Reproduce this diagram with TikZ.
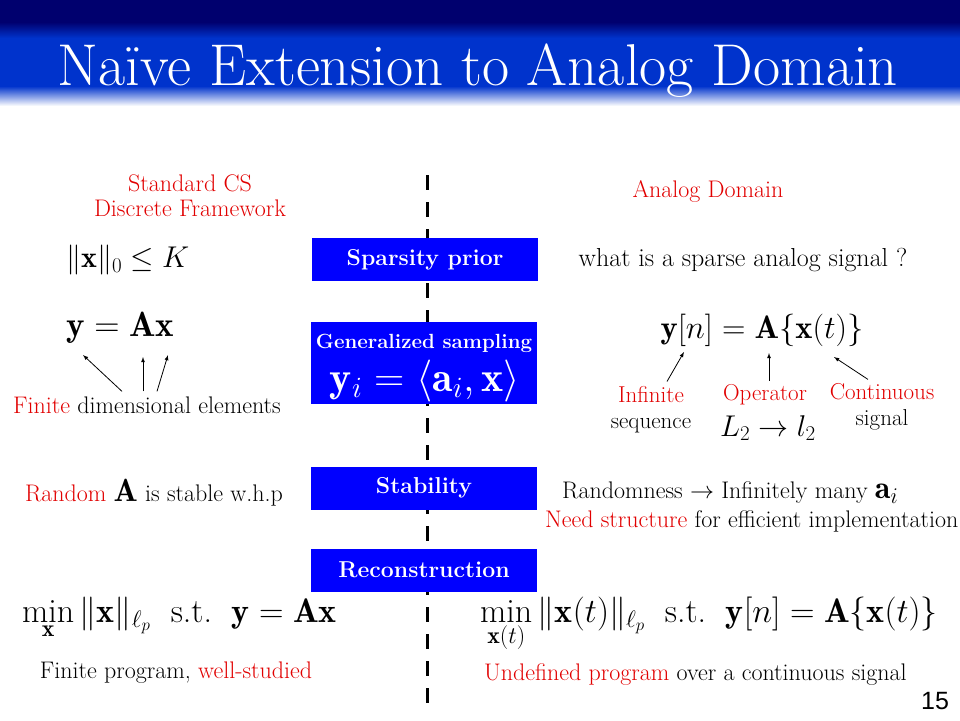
\RequirePackage{fix-cm}
\documentclass[tikz,border=0pt]{standalone}
\usepackage{amsmath}
\usepackage{fontspec}
\newfontfamily\pagefont{Liberation Sans}
\usetikzlibrary{positioning,calc}
\definecolor{navy}{RGB}{0,0,110}
\definecolor{titleblue}{RGB}{0,51,204}
\definecolor{hlred}{RGB}{225,0,0}
\newcommand{\hl}[1]{\textcolor{hlred}{#1}}

\begin{document}
\begin{tikzpicture}[x=1pt, y=-1pt, >=latex,
	every node/.style={inner sep=0pt, font=\fontsize{24}{26}\selectfont},
	stage/.style={fill=blue, text=white, minimum width=226pt, minimum height=43pt, font=\fontsize{23}{24}\selectfont\bfseries},
	big/.style={font=\fontsize{34}{36}\selectfont},
	note/.style={align=center}]
	\useasboundingbox (0,0) rectangle (960,720);
	% header band
	\fill[navy] (0,0) rectangle (960,22);
	\shade[top color=navy, bottom color=titleblue] (0,22) rectangle (960,38);
	\fill[titleblue] (0,38) rectangle (960,86);
	\shade[top color=titleblue, bottom color=white] (0,86) rectangle (960,106);
	\node[anchor=base, text=white, font=\fontsize{59}{64}\selectfont] (title) at (478,85) {Naïve Extension to Analog Domain};

	% divider
	\coordinate (divtop) at (427,175);
	\coordinate (divbot) at (427,705);
	\draw[line width=3pt, dash pattern=on 15pt off 12pt] (divtop) -- (divbot);

	\node[stage] (sparsity) at (425,259.5) {Sparsity prior};
	\node[stage, minimum height=82pt] (sampling) at (424,363) {};
	\node[text=white, font=\fontsize{20.5}{22}\selectfont\bfseries] (samplabel) at (424,343) {Generalized sampling};
	\node[text=white, font=\fontsize{42}{42}\selectfont] (sampeq) at (425,381) {$\mathbf{y}_i=\langle\mathbf{a}_i,\mathbf{x}\rangle$};
	\node[stage] (stability) at (424,488) {Stability};
	\node[stage] (recon) at (424,570) {Reconstruction};

	% discrete side
	\node[note, text=hlred, font=\fontsize{24}{25}\selectfont] (discrete) at (190,196) {Standard CS\\Discrete Framework};
	\node[anchor=west, font=\fontsize{30}{32}\selectfont] (sparse) at (66,260) {$\|\mathbf{x}\|_0\le K$};
	\node[anchor=west, font=\fontsize{35}{36}\selectfont] (yax) at (66,328) {$\mathbf{y}=\mathbf{A}\mathbf{x}$};
	\node (finite) at (147,405) {\hl{Finite} dimensional elements};
	\coordinate (fy) at (83,355);
	\coordinate (fA) at (143,357);
	\coordinate (fx) at (168,355);
	\draw[->, thick] ($(finite.north)+(-25,-5)$) -- (fy);
	\draw[->, thick] ($(finite.north)+(-4,-5)$) -- (fA);
	\draw[->, thick] ($(finite.north)+(10,-5)$) -- (fx);
	\node (random) at (154,493) {\hl{Random} {\fontsize{32}{32}\selectfont$\mathbf{A}$} is stable w.h.p};
	\node[anchor=base west, big] (minl) at (22,622) {$\displaystyle\min_{\mathbf{x}}\|\mathbf{x}\|_{\ell_p}\;\ \text{s.t.}\;\ \mathbf{y}=\mathbf{A}\mathbf{x}$};
	\node (wellst) at (176,673) {Finite program, \hl{well-studied}};

	% analog side
	\node[text=hlred] (analog) at (708,191) {Analog Domain};
	\node[font=\fontsize{26}{28}\selectfont] (whatis) at (743,260) {what is a sparse analog signal ?};
	\node[font=\fontsize{32.5}{34}\selectfont] (yan) at (762,330) {$\mathbf{y}[n]=\mathbf{A}\{\mathbf{x}(t)\}$};
	\node[note, font=\fontsize{23}{26}\selectfont] (infseq) at (651,410) {\hl{Infinite}\\sequence};
	\node[text=hlred, font=\fontsize{23}{26}\selectfont] (oper) at (765,395) {Operator};
	\node[font=\fontsize{30}{30}\selectfont] (opmap) at (768,428) {$L_2\rightarrow l_2$};
	\node[note, font=\fontsize{23}{26}\selectfont] (contsig) at (882,407) {\hl{Continuous}\\signal};
	\coordinate (ay) at (684,352);
	\coordinate (aA) at (769,353);
	\coordinate (ax) at (834,357);
	\draw[->, thick] (infseq.north) ++(16,-5) -- (ay);
	\draw[->, thick] (oper.north) ++(4,-4) -- (aA);
	\draw[->, thick] (contsig.north) ++(-14,-4) -- (ax);
	\node[anchor=west] (randomness) at (562,493) {Randomness $\rightarrow$ Infinitely many {\fontsize{32}{32}\selectfont$\mathbf{a}_i$}};
	\node[anchor=west] (structure) at (545,521) {\hl{Need structure} for efficient implementation};
	\node[anchor=base west, big] (minr) at (480,622) {$\displaystyle\min_{\mathbf{x}(t)}\|\mathbf{x}(t)\|_{\ell_p}\;\ \text{s.t.}\;\ \mathbf{y}[n]=\mathbf{A}\{\mathbf{x}(t)\}$};
	\node[anchor=west] (undef) at (484,675) {\hl{Undefined program} over a continuous signal};

	\node[font=\pagefont\fontsize{25}{26}\selectfont] (pagenum) at (935,701) {15};
\end{tikzpicture}
\end{document}
